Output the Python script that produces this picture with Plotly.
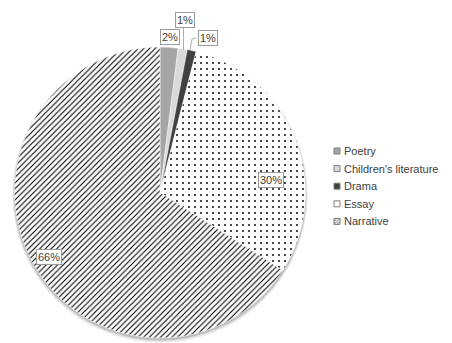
import plotly.graph_objects as go

# Share of works by genre (percent)
genres = ["Poetry", "Children's literature", "Drama", "Essay", "Narrative"]
shares = [2, 1, 1, 30, 66]

# Slice styling
fill_colors = ["#a5a5a5", "#d9d9d9", "#404040", "#ffffff", "#ffffff"]
pattern_shapes = ["", "", "", ".", "/"]

W, H = 452, 343


def px(x):
    return x / W


def py(y):
    return 1 - y / H


# Pie placement in pixels (left, right, top, bottom)
PL, PR, PT, PB = 14, 306, 47, 338

fig = go.Figure()

# Soft drop shadow under the pie
for grow, shift, col in [(2, 2.5, "#e6e6e6"), (1, 1.5, "#bdbdbd")]:
    fig.add_trace(go.Pie(
        values=[1], labels=["shadow"], sort=False,
        marker=dict(colors=[col], line=dict(width=0)),
        textinfo="none", hoverinfo="skip", showlegend=False,
        domain=dict(x=[px(PL - grow), px(PR + grow)],
                    y=[max(0.0, py(PB + shift + grow)), py(PT + shift - grow)]),
    ))

fig.add_trace(go.Pie(
    labels=genres,
    values=shares,
    sort=False,
    direction="clockwise",
    rotation=0,
    marker=dict(
        colors=fill_colors,
        line=dict(width=0.5, color="#ffffff"),
        pattern=dict(
            shape=pattern_shapes,
            fgcolor=["#000000"] * len(genres),
            bgcolor=fill_colors,
            size=[8, 8, 8, 6, 4],
            solidity=[0.3, 0.3, 0.3, 0.08, 0.28],
            fillmode="replace",
        ),
    ),
    textinfo="none",
    hoverinfo="label+percent",
    showlegend=False,
    domain=dict(x=[px(PL), px(PR)], y=[py(PB), py(PT)]),
))

# Data label boxes (pixel centres)
label_pos = [(170, 37), (185, 20), (208, 38), (271, 180), (49, 257)]
annotations = []
for v, (lx, ly) in zip(shares, label_pos):
    annotations.append(dict(
        x=px(lx), y=py(ly), xref="paper", yref="paper",
        text=f"{v}%", showarrow=False,
        font=dict(family="Liberation Sans, Arial", size=11, color="#404040"),
        bgcolor="#ffffff", bordercolor="#9a9a9a", borderwidth=1, borderpad=1,
        xanchor="center", yanchor="middle",
    ))

shapes = []
# Leader lines for the small slices
leader_color = "#b0b0b0"
shapes.append(dict(type="path", xref="paper", yref="paper",
                   path=f"M {px(183.5)},{py(27)} L {px(183.5)},{py(50)}",
                   line=dict(color=leader_color, width=1)))
shapes.append(dict(type="path", xref="paper", yref="paper",
                   path=f"M {px(190)},{py(50)} L {px(192)},{py(39)} L {px(196.5)},{py(38)}",
                   line=dict(color=leader_color, width=1)))

# Legend: swatch + text per genre
LX, LY0, LDY, SW = 334, 151, 17.6, 6
for i, (g, c, pat) in enumerate(zip(genres, fill_colors, pattern_shapes)):
    cy = LY0 + i * LDY
    top = cy - SW / 2
    shapes.append(dict(type="rect", xref="paper", yref="paper",
                       x0=px(LX), x1=px(LX + SW), y0=py(top + SW), y1=py(top),
                       fillcolor=c, line=dict(color="#7f7f7f", width=1)))
    if pat == "/":
        # three diagonal strokes inside the swatch
        segs = [((0, SW / 2), (SW / 2, 0)), ((0, SW), (SW, 0)), ((SW / 2, SW), (SW, SW / 2))]
        for (u0, v0), (u1, v1) in segs:
            shapes.append(dict(type="line", xref="paper", yref="paper",
                               x0=px(LX + u0), y0=py(top + v0),
                               x1=px(LX + u1), y1=py(top + v1),
                               line=dict(color="#404040", width=0.8)))
    annotations.append(dict(
        x=px(LX + SW + 2), y=py(cy), xref="paper", yref="paper",
        text=g, showarrow=False, xanchor="left", yanchor="middle",
        font=dict(family="Liberation Sans, Arial", size=11, color="#404040"),
    ))

fig.update_layout(
    width=W, height=H,
    margin=dict(l=0, r=0, t=0, b=0),
    paper_bgcolor="#ffffff", plot_bgcolor="#ffffff",
    showlegend=False,
    annotations=annotations,
    shapes=shapes,
)

fig.write_html("out.html")
